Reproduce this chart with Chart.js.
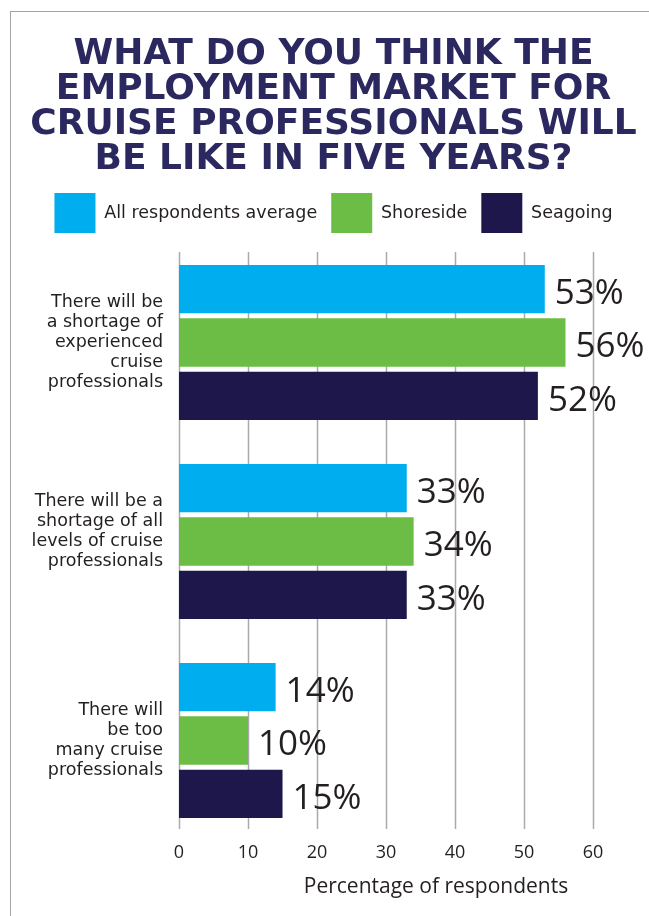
<!DOCTYPE html>
<html>
<head>
<meta charset="utf-8">
<script src="https://cdn.jsdelivr.net/npm/chart.js@4.4.1/dist/chart.umd.min.js"></script>
<style>
  html, body { margin: 0; padding: 0; background: #fff; }
  #wrap { position: relative; width: 649px; height: 916px; overflow: hidden; }
  #marco {
    position: absolute; left: 10px; top: 11px; right: -5px; bottom: -5px;
    border-left: 1.5px solid #a3a3a3; border-top: 1.5px solid #a3a3a3;
  }
  canvas { position: absolute; left: 0; top: 0; }
</style>
</head>
<body>
<div id="wrap">
  <div id="marco"></div>
  <canvas id="grafico" width="649" height="916"></canvas>
</div>
<script>
const titulo = [
  "WHAT DO YOU THINK THE",
  "EMPLOYMENT MARKET FOR",
  "CRUISE PROFESSIONALS WILL",
  "BE LIKE IN FIVE YEARS?",
];

// la linea vacia del segundo grupo sube un poco el texto
const categorias = [
  ["There will be", "a shortage of", "experienced", "cruise", "professionals"],
  ["There will be a", "shortage of all", "levels of cruise", "professionals", ""],
  ["There will", "be too", "many cruise", "professionals"],
];

const series = ["All respondents average", "Shoreside", "Seagoing"];
const promedio = [53, 33, 14];
const shoreside = [56, 34, 10];
const seagoing = [52, 33, 15];

const ticksX = [0, 10, 20, 30, 40, 50, 60];
const tituloEjeX = "Percentage of respondents";

const colores = ["#00aeef", "#6cbd45", "#1e174b"];
const colorTexto = "#231f20";

// lineas verticales de la rejilla (mas cortas que el area del grafico)
const rejilla = {
  id: "rejilla",
  beforeDatasetsDraw(chart) {
    const { ctx, chartArea, scales } = chart;
    ctx.save();
    ctx.strokeStyle = "#aaaaaa";
    ctx.lineWidth = 1.5;
    ticksX.forEach((v) => {
      const x = Math.round(scales.x.getPixelForValue(v)) + 0.5;
      ctx.beginPath();
      ctx.moveTo(x, chartArea.top + 9);
      ctx.lineTo(x, chartArea.bottom - 11);
      ctx.stroke();
    });
    ctx.restore();
  },
};

// porcentaje al final de cada barra
const etiquetasValor = {
  id: "etiquetasValor",
  afterDatasetsDraw(chart) {
    const ctx = chart.ctx;
    ctx.save();
    ctx.font = '35px "Open Sans"';
    ctx.fillStyle = colorTexto;
    ctx.textBaseline = "middle";
    chart.data.datasets.forEach((ds, i) => {
      chart.getDatasetMeta(i).data.forEach((bar, j) => {
        ctx.fillText(ds.data[j] + "%", bar.x + 10, bar.y + 5);
      });
    });
    ctx.restore();
  },
};

// titulo del eje X
const tituloEje = {
  id: "tituloEje",
  afterDraw(chart) {
    const ctx = chart.ctx;
    ctx.save();
    ctx.font = '21px "Open Sans"';
    ctx.fillStyle = colorTexto;
    ctx.textAlign = "center";
    ctx.textBaseline = "middle";
    ctx.fillText(tituloEjeX, 436, 887);
    ctx.restore();
  },
};

const ctx = document.getElementById("grafico").getContext("2d");

new Chart(ctx, {
  type: "bar",
  data: {
    labels: categorias,
    datasets: [
      { label: series[0], data: promedio, backgroundColor: colores[0] },
      { label: series[1], data: shoreside, backgroundColor: colores[1] },
      { label: series[2], data: seagoing, backgroundColor: colores[2] },
    ],
  },
  plugins: [rejilla, etiquetasValor, tituloEje],
  options: {
    indexAxis: "y",
    responsive: false,
    animation: false,
    devicePixelRatio: 1,
    categoryPercentage: 0.803,
    barPercentage: 0.906,
    layout: { padding: { left: 18, right: 0, top: 0, bottom: 0 } },
    plugins: {
      title: {
        display: true,
        text: titulo,
        color: "#2b2860",
        font: { family: "DejaVu Sans", weight: "bold", size: 36, lineHeight: 35 / 36 },
        padding: { top: 37, bottom: 2 },
      },
      legend: {
        position: "top",
        labels: {
          boxWidth: 41,
          boxHeight: 40,
          padding: 14,
          color: colorTexto,
          font: { family: "DejaVu Sans", size: 17.5 },
        },
      },
      tooltip: { enabled: false },
    },
    scales: {
      x: {
        min: 0,
        max: 68.1,
        grid: { display: false, drawTicks: false },
        border: { display: false },
        ticks: {
          padding: 2,
          color: colorTexto,
          font: { family: "Open Sans", size: 18 },
        },
        afterBuildTicks: (scale) => {
          scale.ticks = ticksX.map((v) => ({ value: v }));
        },
        afterFit: (scale) => {
          scale.height = 76;
        },
      },
      y: {
        grid: { display: false, drawTicks: false },
        border: { display: false },
        ticks: {
          padding: 16,
          color: colorTexto,
          font: { family: "DejaVu Sans", size: 17.5, lineHeight: 20 / 17.5 },
        },
        afterFit: (scale) => {
          scale.width = 161;
        },
      },
    },
  },
});
</script>
</body>
</html>
